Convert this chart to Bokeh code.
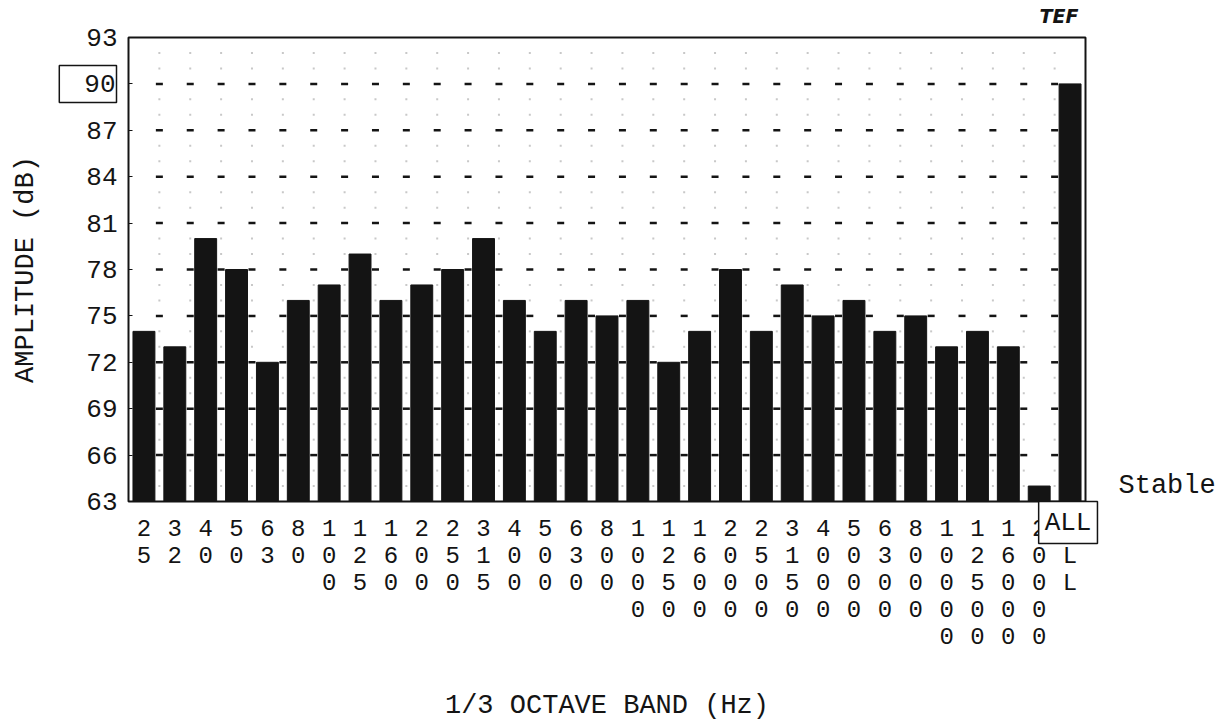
from bokeh.plotting import figure
from bokeh.models import Range1d, FixedTicker, Label, BoxAnnotation
from bokeh.embed import file_html
from bokeh.resources import INLINE

# 1/3-octave band centre frequencies (Hz) plus the overall level
bands = ["25", "32", "40", "50", "63", "80", "100", "125", "160", "200",
         "250", "315", "400", "500", "630", "800", "1000", "1250", "1600",
         "2000", "2500", "3150", "4000", "5000", "6300", "8000", "10000",
         "12500", "16000", "20000", "ALL"]
# band levels in dB
levels = [74, 73, 80, 78, 72, 76, 77, 79, 76, 77,
          78, 80, 76, 74, 76, 75, 76, 72, 74,
          78, 74, 77, 75, 76, 74, 75, 73,
          74, 73, 64, 90]
y_ticks = [63, 66, 69, 72, 75, 78, 81, 84, 87, 90, 93]

FONT = "Liberation Mono"
INK = "#141414"
W, H = 1232, 727
# placement of the graph box on the page (pixels)
BOX_L, BOX_R, BOX_T, BOX_B = 128, 1085, 37, 501

n = len(bands)
centers = [i + 0.5 for i in range(n)]
y_min, y_max = y_ticks[0], y_ticks[-1]

# the drawing frame spans the whole page; the graph box is placed through the ranges
px_x = (BOX_R - BOX_L) / n
px_y = (BOX_B - BOX_T) / (y_max - y_min)
x_range = Range1d(-BOX_L / px_x, n + (W - BOX_R) / px_x)
y_range = Range1d(y_min - (H - BOX_B) / px_y, y_max + BOX_T / px_y)

p = figure(width=W, height=H, output_backend="svg", toolbar_location=None,
           x_range=x_range, y_range=y_range,
           min_border_left=0, min_border_right=0,
           min_border_top=0, min_border_bottom=0,
           background_fill_color="white", border_fill_color="white")
p.outline_line_color = None
p.xgrid.visible = False
p.ygrid.visible = False

# dashed reference levels: short dashes at every band boundary, faint dots at each dB
bounds = list(range(1, n))
dash_x, dash_y, dot_x, dot_y = [], [], [], []
for lv in range(y_min + 1, y_max):
    for b in bounds:
        if lv % 3 == 0:
            dash_x.append(b)
            dash_y.append(lv)
        else:
            dot_x.append(b)
            dot_y.append(lv)
p.scatter(dot_x, dot_y, marker="square", size=2, fill_color="#c8c8c8",
          line_color=None)
p.scatter(dash_x, dash_y, marker="dash", size=7, line_color=INK, line_width=2.5)

# band bars
p.vbar(x=centers, top=levels, bottom=y_min, width=0.71,
       fill_color=INK, line_color=INK, line_width=1)

# graph border
p.add_layout(BoxAnnotation(left=0, right=n, bottom=y_min, top=y_max,
                           fill_color=None, fill_alpha=0,
                           line_color=INK, line_alpha=1, line_width=2))

# y axis
ya = p.yaxis[0]
ya.fixed_location = 0
ya.bounds = (y_min, y_max)
ya.ticker = FixedTicker(ticks=y_ticks)
ya.major_label_overrides = {90: ""}
ya.major_label_text_font = FONT
ya.major_label_text_font_size = "26px"
ya.major_label_text_color = INK
ya.major_label_standoff = 11
ya.major_tick_in = 4
ya.major_tick_out = 0
ya.major_tick_line_color = INK
ya.minor_tick_line_color = None
ya.axis_line_color = None
ya.axis_label = "AMPLITUDE (dB)"
ya.axis_label_text_font = FONT
ya.axis_label_text_font_size = "27px"
ya.axis_label_text_font_style = "normal"
ya.axis_label_text_color = INK
ya.axis_label_standoff = 42

# x axis: band names written vertically, one character per line
xa = p.xaxis[0]
xa.fixed_location = y_min
xa.bounds = (0, n)
xa.ticker = FixedTicker(ticks=centers)
overrides = {}
for c, name in zip(centers, bands):
    chars = list(name)
    if name == "ALL":
        chars[0] = " "
    overrides[c] = "\n".join(chars)
xa.major_label_overrides = overrides
xa.major_label_text_font = FONT
xa.major_label_text_font_size = "24px"
xa.major_label_text_line_height = 1.0
xa.major_label_text_color = INK
xa.major_label_standoff = 14
xa.major_tick_in = 0
xa.major_tick_out = 0
xa.minor_tick_line_color = None
xa.axis_line_color = None
xa.axis_label = "1/3 OCTAVE BAND (Hz)"
xa.axis_label_text_font = FONT
xa.axis_label_text_font_size = "27px"
xa.axis_label_text_font_style = "normal"
xa.axis_label_text_color = INK
xa.axis_label_standoff = 37

# measurement status
p.add_layout(Label(x=n, y=y_min, x_offset=33, y_offset=16, text="Stable",
                   text_font=FONT, text_font_size="27px", text_color=INK,
                   text_align="left", text_baseline="middle"))

# instrument mark
p.add_layout(Label(x=centers[-1], y=y_max, x_offset=-11, y_offset=22, text="TEF",
                   text_font="DejaVu Sans", text_font_size="19px",
                   text_font_style="bold italic", text_color=INK,
                   text_align="center", text_baseline="middle"))

# boxed ALL marker under the overall bar
p.add_layout(Label(x=centers[-1], y=y_min, x_offset=-2, y_offset=-21, text="ALL",
                   text_font=FONT, text_font_size="26px", text_color=INK,
                   text_align="center", text_baseline="middle",
                   border_line_color=INK, border_line_width=1.5,
                   background_fill_color="white", padding=6))

# boxed 90 dB reference value
p.add_layout(Label(x=0, y=90, x_offset=-12, text="90", text_font=FONT,
                   text_font_size="26px", text_color=INK, text_align="right",
                   text_baseline="middle", border_line_color=INK,
                   border_line_width=1.5, background_fill_color="white",
                   padding=dict(left=25, right=1, top=10, bottom=10)))

open("out.html", "w").write(file_html(p, INLINE))
